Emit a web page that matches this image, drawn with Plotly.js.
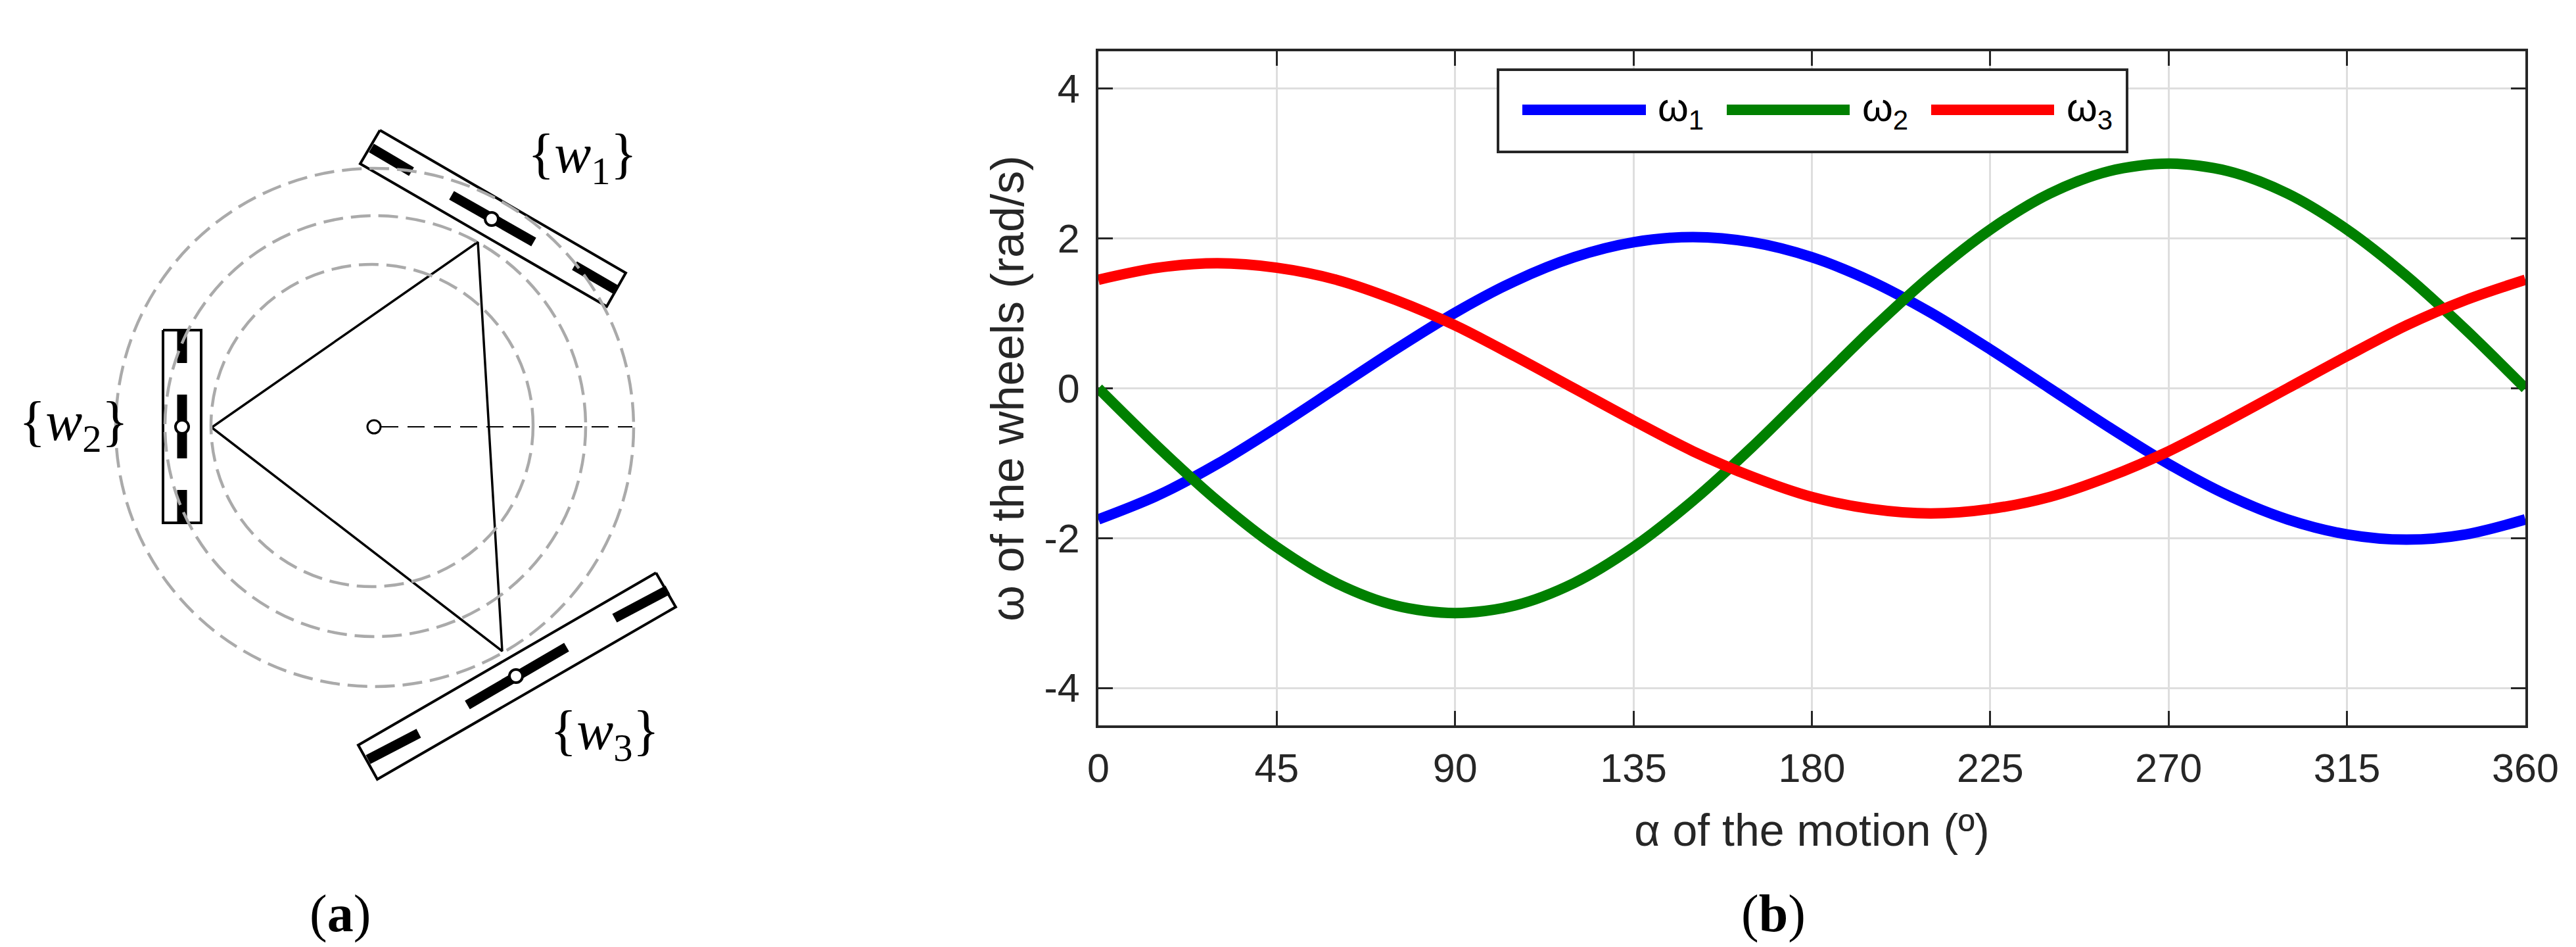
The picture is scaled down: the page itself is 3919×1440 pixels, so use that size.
<!DOCTYPE html>
<html><head><meta charset="utf-8">
<script src="https://cdn.plot.ly/plotly-3.0.0.min.js"></script>
<style>html,body{margin:0;padding:0;background:#fff}</style></head>
<body><div id="c" style="width:3919px;height:1440px"></div>
<script>
const alpha=[0,15,30,45,60,75,90,105,120,135,150,165,180,195,210,225,240,255,270,285,300,315,330,345,360];
const omega1=[-1.75,-1.43,-1.01,-0.52,0,0.52,1.01,1.43,1.75,1.95,2.02,1.95,1.75,1.43,1.01,0.52,0,-0.52,-1.01,-1.43,-1.75,-1.95,-2.02,-1.95,-1.75];
const omega2=[0,-0.78,-1.5,-2.12,-2.6,-2.9,-3,-2.9,-2.6,-2.12,-1.5,-0.78,0,0.78,1.5,2.12,2.6,2.9,3,2.9,2.6,2.12,1.5,0.78,0];
const omega3=[1.45,1.61,1.67,1.61,1.45,1.18,0.84,0.43,0,-0.43,-0.84,-1.18,-1.45,-1.61,-1.67,-1.61,-1.45,-1.18,-0.84,-0.43,0,0.43,0.84,1.18,1.45];
const names=['ω<sub>1</sub>','ω<sub>2</sub>','ω<sub>3</sub>'];
const colors=['#0000ff','#008000','#ff0000'];
const xTicks=[0,45,90,135,180,225,270,315,360];
const yTicks=[-4,-2,0,2,4];
// legend box, in picture pixels
const legendBox=[2279,106,3236,231];
const legendKeys=[[2316,2504],[2627,2814],[2938,3125]];
const legendKeyY=167, legendTextX=[2520,2831,3142], legendTextY=168;
// schematic, panel (a), in picture pixels
const triX=[322,727,764,322], triY=[650,368,990,650];
const dashX=[580,962], dashY=[649,649];
const wheelRects=[
 {x:[578,952,923,548,578],y:[198,415,466,249,198]},
 {x:[248,306,306,248,248],y:[502,502,795,795,502]},
 {x:[998,1028,574,545,998],y:[871,923,1185,1133,871]}];
const wheelBars=[
 [[565,225,626,261],[687,297,812,368],[874,404,936,440]],
 [[277,502,277,552],[277,600,277,697],[277,745,277,795]],
 [[935,940,1016,897],[711,1072,862,984],[560,1155,637,1115]]];
const hubX=[748,277,785], hubY=[333,649,1028];
const rings=[[570,650,394],[571,648,320],[566,647,245]];
const centerMark=[569,649];

const P={l:1671,r:3842,t:78,b:1103};
const traces=[omega1,omega2,omega3].map((v,i)=>({x:alpha,y:v,name:names[i],mode:'lines',showlegend:false,
  line:{color:colors[i],width:16,shape:'spline',smoothing:0.9},xaxis:'x',yaxis:'y',cliponaxis:false}));
const sch={xaxis:'x2',yaxis:'y2',mode:'lines',showlegend:false,hoverinfo:'skip'};
wheelRects.forEach(r=>traces.push({...sch,x:r.x,y:r.y,line:{color:'#000',width:4}}));
wheelBars.forEach(w=>w.forEach(b=>traces.push({...sch,x:[b[0],b[2]],y:[b[1],b[3]],line:{color:'#000',width:15}})));
traces.push({...sch,x:triX,y:triY,line:{color:'#000',width:3.5}});
traces.push({...sch,x:dashX,y:dashY,line:{color:'#000',width:2,dash:'26px,14px'}});
traces.push({...sch,x:hubX,y:hubY,mode:'markers',marker:{size:20,color:'#fff',line:{color:'#000',width:4}}});
traces.push({...sch,x:[centerMark[0]],y:[centerMark[1]],mode:'markers',marker:{size:20,color:'#fff',line:{color:'#000',width:3}}});

const shapes=rings.map(r=>({type:'circle',xref:'x2',yref:'y2',x0:r[0]-r[2],x1:r[0]+r[2],y0:r[1]-r[2],y1:r[1]+r[2],
  line:{color:'#aaaaaa',width:4.5,dash:'30px,12px'},layer:'above'}));
shapes.push({type:'rect',xref:'x2',yref:'y2',x0:legendBox[0],y0:legendBox[1],x1:legendBox[2],y1:legendBox[3],
  fillcolor:'#fff',line:{color:'#262626',width:4},layer:'above'});
legendKeys.forEach((k,i)=>shapes.push({type:'line',xref:'x2',yref:'y2',x0:k[0],x1:k[1],y0:legendKeyY,y1:legendKeyY,
  line:{color:colors[i],width:16},layer:'above'}));
const serif='"Liberation Serif",serif', sans='"Liberation Sans",Arial,sans-serif';
const ann=(x,y,t,s)=>({xref:'x2',yref:'y2',x,y,text:t,showarrow:false,xanchor:'center',yanchor:'middle',font:{family:serif,size:s,color:'#000'}});
const annotations=[
 ann(886,240,'{<i>w</i><sub>1</sub>}',84),
 ann(112,647,'{<i>w</i><sub>2</sub>}',84),
 ann(920,1117,'{<i>w</i><sub>3</sub>}',84),
 ann(517,1389,'(<b>a</b>)',80),
 ann(2698,1389,'(<b>b</b>)',80)];
names.forEach((n,i)=>annotations.push({xref:'x2',yref:'y2',x:legendTextX[i],y:legendTextY,text:n,showarrow:false,xanchor:'left',yanchor:'middle',
  font:{family:sans,size:60,color:'#000'}}));
const axis={showline:true,mirror:'ticks',linecolor:'#262626',linewidth:4,ticks:'inside',ticklen:22,tickwidth:3,tickcolor:'#262626',layer:'below traces',
  showgrid:true,gridcolor:'#dedede',gridwidth:3,zeroline:false,tickfont:{family:sans,size:61,color:'#262626'}};
const layout={width:3919,height:1440,margin:{l:0,r:0,t:0,b:0},paper_bgcolor:'#fff',plot_bgcolor:'rgba(0,0,0,0)',showlegend:false,
 xaxis:{...axis,domain:[P.l/3919,P.r/3919],anchor:'y',range:[0,360],tickvals:xTicks,ticktext:xTicks.map(String),ticklabelstandoff:9,
   title:{text:'α of the motion (º)',font:{family:sans,size:68,color:'#262626'},standoff:38}},
 yaxis:{...axis,domain:[1-P.b/1440,1-P.t/1440],anchor:'x',range:[-4.5,4.5],tickvals:yTicks,ticktext:yTicks.map(String),ticklabelstandoff:12,
   title:{text:'ω of the wheels (rad/s)',font:{family:sans,size:70,color:'#262626'},standoff:9}},
 xaxis2:{domain:[0,1],range:[0,3919],visible:false,anchor:'y2',fixedrange:true},
 yaxis2:{domain:[0,1],range:[1440,0],visible:false,anchor:'x2',fixedrange:true},
 shapes,annotations};
Plotly.newPlot('c',traces,layout,{displayModeBar:false,staticPlot:true});
</script></body></html>
